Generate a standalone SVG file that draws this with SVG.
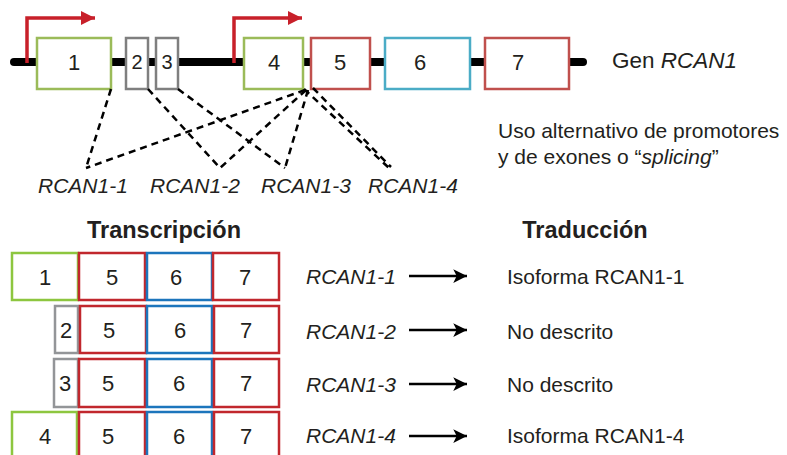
<svg xmlns="http://www.w3.org/2000/svg" width="787" height="455" viewBox="0 0 787 455">
<defs>
<style>
text{font-family:"Liberation Sans",Arial,sans-serif;fill:#231f20}
.num{font-size:22px;text-anchor:middle}
.sm{font-size:20px}
.it{font-style:italic}
.lbl{font-size:21px}
.hd{font-size:23.5px;font-weight:bold}
.ex{fill:#fff;stroke-width:2.5}
.g1{stroke:#9bbb59}.gr1{stroke:#7f7f7f}.r1{stroke:#c0504d}.b1{stroke:#4bacc6}
.g2{stroke:#8dc63f}.gr2{stroke:#939598}.r2{stroke:#c1272d}.b2{stroke:#1c75bc}
.dash{stroke:#000;stroke-width:2.5;stroke-dasharray:7 5;fill:none}
.prom{stroke:#c8202a;stroke-width:3.5;fill:none}
.arr{stroke:#000;stroke-width:2.5}
</style>
<marker id="ah" viewBox="0 0 10 10" refX="10" refY="5" markerWidth="5.5" markerHeight="5.5" markerUnits="strokeWidth" orient="auto">
<path d="M0,0 L10,5 L0,10 L2.5,5 z" fill="#000"/>
</marker>
<marker id="ahr" viewBox="0 0 10 10" refX="10" refY="5" markerWidth="4" markerHeight="4" markerUnits="strokeWidth" orient="auto">
<path d="M0,0 L10,5 L0,10 z" fill="#c8202a"/>
</marker>
</defs>

<g id="gene">
<line x1="14" y1="62" x2="583" y2="62" stroke="#000" stroke-width="8" stroke-linecap="round"/>
</g>

<g id="promoters">
<path class="prom" d="M27,63 V18 H95" marker-end="url(#ahr)"/>
<path class="prom" d="M234,63 V18 H302" marker-end="url(#ahr)"/>
</g>

<g id="exon1"><rect class="ex g1" x="37" y="38" width="74" height="51"/><text class="num" x="74" y="70">1</text></g>
<g id="exon2"><rect class="ex gr1" x="126" y="38" width="22" height="51"/><text class="num sm" x="137" y="69">2</text></g>
<g id="exon3"><rect class="ex gr1" x="156" y="38" width="22" height="51"/><text class="num sm" x="167" y="69">3</text></g>
<g id="exon4"><rect class="ex g1" x="244" y="38" width="59" height="51"/><text class="num" x="274" y="70">4</text></g>
<g id="exon5"><rect class="ex r1" x="311" y="38" width="59" height="51"/><text class="num" x="340" y="70">5</text></g>
<g id="exon6"><rect class="ex b1" x="385" y="38" width="85" height="51"/><text class="num" x="420" y="70">6</text></g>
<g id="exon7"><rect class="ex r1" x="485" y="38" width="84" height="51"/><text class="num" x="518" y="70">7</text></g>

<g id="gene-label"><text class="lbl" x="612" y="68" style="font-size:22.5px">Gen <tspan class="it">RCAN1</tspan></text></g>

<g id="connectors">
<line class="dash" x1="111" y1="89" x2="86" y2="168"/>
<line class="dash" x1="148" y1="89" x2="220" y2="168"/>
<line class="dash" x1="178" y1="89" x2="285" y2="168"/>
<line class="dash" x1="305" y1="90" x2="86" y2="168"/>
<line class="dash" x1="306" y1="90" x2="220" y2="168"/>
<line class="dash" x1="308" y1="90" x2="285" y2="168"/>
<line class="dash" x1="304" y1="89" x2="389" y2="168"/>
<line class="dash" x1="313" y1="88" x2="391" y2="167"/>
</g>

<g id="splice-labels">
<text class="lbl it" x="38" y="193">RCAN1-1</text>
<text class="lbl it" x="150" y="193">RCAN1-2</text>
<text class="lbl it" x="261" y="193">RCAN1-3</text>
<text class="lbl it" x="368" y="193">RCAN1-4</text>
</g>

<g id="note">
<text class="lbl" x="498" y="138">Uso alternativo de promotores</text>
<text class="lbl" x="498" y="164">y de exones o “<tspan class="it">splicing</tspan>”</text>
</g>

<g id="headers">
<text class="hd" x="164" y="238" text-anchor="middle">Transcripción</text>
<text class="hd" x="585" y="238" text-anchor="middle">Traducción</text>
</g>

<g id="row1">
<rect class="ex g2" x="12" y="253" width="66" height="47"/><text class="num" x="45" y="285">1</text>
<rect class="ex r2" x="79" y="253" width="66" height="47"/><text class="num" x="112" y="285">5</text>
<rect class="ex b2" x="147" y="253" width="65" height="47"/><text class="num" x="176" y="285">6</text>
<rect class="ex r2" x="213" y="253" width="66" height="47"/><text class="num" x="245" y="285">7</text>
</g>
<g id="row2">
<rect class="ex gr2" x="55" y="306" width="23" height="47"/><text class="num" x="66" y="338">2</text>
<rect class="ex r2" x="80" y="306" width="66" height="47"/><text class="num" x="109" y="338">5</text>
<rect class="ex b2" x="147" y="306" width="65" height="47"/><text class="num" x="180" y="338">6</text>
<rect class="ex r2" x="214" y="306" width="65" height="47"/><text class="num" x="246" y="338">7</text>
</g>
<g id="row3">
<rect class="ex gr2" x="54" y="359" width="24" height="48"/><text class="num" x="65" y="391">3</text>
<rect class="ex r2" x="79" y="359" width="66" height="48"/><text class="num" x="108" y="391">5</text>
<rect class="ex b2" x="147" y="359" width="65" height="48"/><text class="num" x="179" y="391">6</text>
<rect class="ex r2" x="214" y="359" width="65" height="48"/><text class="num" x="246" y="391">7</text>
</g>
<g id="row4">
<rect class="ex g2" x="12" y="412" width="65" height="50"/><text class="num" x="45" y="444">4</text>
<rect class="ex r2" x="79" y="412" width="66" height="50"/><text class="num" x="108" y="444">5</text>
<rect class="ex b2" x="147" y="412" width="65" height="50"/><text class="num" x="179" y="444">6</text>
<rect class="ex r2" x="214" y="412" width="65" height="50"/><text class="num" x="246" y="444">7</text>
</g>

<g id="translation">
<text class="lbl it" x="306" y="284">RCAN1-1</text>
<line class="arr" x1="409" y1="276" x2="467" y2="276" marker-end="url(#ah)"/>
<text class="lbl" x="507" y="284">Isoforma RCAN1-1</text>
<text class="lbl it" x="306" y="339">RCAN1-2</text>
<line class="arr" x1="409" y1="330" x2="467" y2="330" marker-end="url(#ah)"/>
<text class="lbl" x="507" y="339">No descrito</text>
<text class="lbl it" x="306" y="392">RCAN1-3</text>
<line class="arr" x1="409" y1="384" x2="467" y2="384" marker-end="url(#ah)"/>
<text class="lbl" x="507" y="392">No descrito</text>
<text class="lbl it" x="306" y="443">RCAN1-4</text>
<line class="arr" x1="409" y1="436" x2="467" y2="436" marker-end="url(#ah)"/>
<text class="lbl" x="507" y="443">Isoforma RCAN1-4</text>
</g>
</svg>
